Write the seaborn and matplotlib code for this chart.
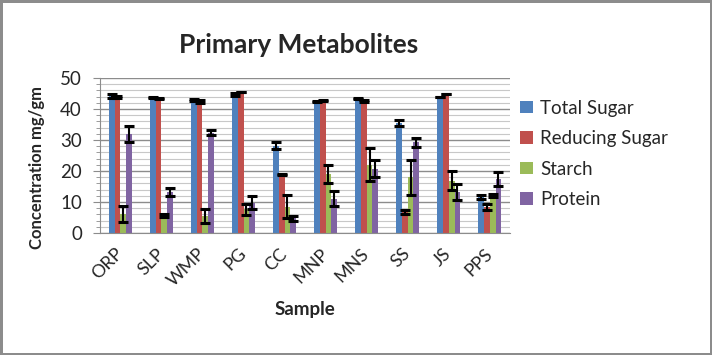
import numpy as np
import pandas as pd
import seaborn as sns
import matplotlib
matplotlib.use("Agg")
import matplotlib.pyplot as plt
from matplotlib.ticker import MultipleLocator, NullLocator

# values (mg/gm)
samples = ["ORP", "SLP", "WMP", "PG", "CC", "MNP", "MNS", "SS", "JS", "PPS"]
series = ["Total Sugar", "Reducing Sugar", "Starch", "Protein"]

total_sugar = [44.2, 43.7, 42.9, 44.7, 28.1, 42.5, 43.3, 35.5, 44.0, 11.6]
reducing_sugar = [43.9, 43.5, 42.5, 45.6, 18.8, 42.7, 42.6, 6.8, 44.9, 8.4]
starch = [6.1, 5.6, 5.4, 7.7, 8.4, 19.0, 22.0, 17.9, 16.9, 12.0]
protein = [31.8, 13.1, 32.4, 9.7, 4.7, 11.1, 20.7, 29.3, 13.2, 17.5]

total_sugar_err = [0.5, 0.2, 0.3, 0.5, 1.1, 0.2, 0.2, 1.1, 0.0, 0.5]
reducing_sugar_err = [0.3, 0.2, 0.5, 0.0, 0.2, 0.2, 0.2, 0.6, 0.0, 0.9]
starch_err = [2.5, 0.6, 2.3, 1.8, 3.7, 2.8, 5.3, 5.8, 3.0, 0.5]
protein_err = [2.6, 1.3, 0.7, 2.1, 0.7, 2.3, 2.7, 1.5, 2.5, 2.3]

colors = ["#4F81BD", "#C0504D", "#9BBB59", "#8064A2"]

values = [total_sugar, reducing_sugar, starch, protein]
errors = [total_sugar_err, reducing_sugar_err, starch_err, protein_err]

rows = []
for s, vals in zip(series, values):
    for samp, v in zip(samples, vals):
        rows.append({"Sample": samp, "Series": s, "Value": v})
df = pd.DataFrame(rows)

sns.set_style("white")
plt.rcParams["font.family"] = ["Lato", "DejaVu Sans"]
plt.rcParams["grid.linestyle"] = "-"

fig = plt.figure(figsize=(7.12, 3.55), dpi=100)
ax = fig.add_axes([0.1404, 0.3437, 0.576, 0.4366])

sns.barplot(data=df, x="Sample", y="Value", hue="Series", order=samples,
            hue_order=series, palette=colors, errorbar=None, width=0.58,
            saturation=1, linewidth=0, ax=ax)

# error bars placed on the bars seaborn drew
bar_containers = list(ax.containers)
for container, errs in zip(bar_containers, errors):
    xs = [p.get_x() + p.get_width() / 2 for p in container.patches]
    hs = [p.get_height() for p in container.patches]
    ax.errorbar(xs, hs, yerr=errs, fmt="none", ecolor="black",
                elinewidth=1.5, capsize=3.5, capthick=2.2, zorder=5)

ax.set_ylim(0, 50)
ax.set_xlim(-0.5, len(samples) - 0.5)
ax.grid(False)
ax.xaxis.set_minor_locator(NullLocator())
ax.yaxis.set_major_locator(MultipleLocator(10))
ax.yaxis.set_minor_locator(MultipleLocator(2))
ax.yaxis.grid(True, which="major", color="#8c8c8c", lw=1, ls="-")
ax.yaxis.grid(True, which="minor", color="#c8c8c8", lw=0.8, ls="-")
ax.set_axisbelow(True)

for side in ["top", "right"]:
    ax.spines[side].set_visible(False)
for side in ["left", "bottom"]:
    ax.spines[side].set_color("#8c8c8c")

ax.tick_params(axis="y", which="major", left=True, length=5, color="#8c8c8c",
               labelsize=13.5, pad=8)
ax.tick_params(axis="y", which="minor", left=True, length=3, color="#8c8c8c")
ax.tick_params(axis="x", length=0, labelsize=13, pad=13)
plt.setp(ax.get_xticklabels(), rotation=45, ha="right", va="center",
         rotation_mode="anchor")

ax.set_xlabel("Sample", fontsize=13.5, fontweight="bold")
ax.xaxis.set_label_coords(0.5, -0.44)
ax.set_ylabel("Concentration mg/gm", fontsize=12, fontweight="bold")
ax.yaxis.set_label_coords(-0.133, 0.42)

fig.text(0.42, 0.873, "Primary Metabolites", fontsize=19, fontweight="bold",
         ha="center", va="center")

ax.legend(loc="center left", bbox_to_anchor=(0.731, 0.566),
          bbox_transform=fig.transFigure, frameon=False,
          fontsize=13.5, handlelength=0.65, handleheight=0.65,
          handletextpad=0.4, labelspacing=0.72, borderaxespad=0,
          borderpad=0)

fig.patch.set_edgecolor("#8c8c8c")
fig.patch.set_linewidth(2.5)
fig.savefig("out.png", dpi=100, edgecolor=fig.get_edgecolor())
